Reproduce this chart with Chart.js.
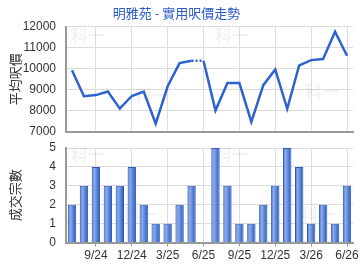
<!DOCTYPE html>
<html>
<head>
<meta charset="utf-8">
<script src="https://cdn.jsdelivr.net/npm/chart.js@4"></script>
<style>
  body { margin: 0; background: #fff; }
  canvas { display: block; }
</style>
</head>
<body>
<canvas id="priceChart" width="360" height="135"></canvas>
<canvas id="countChart" width="360" height="135"></canvas>
<script>
const months = ["7/24", "8/24", "9/24", "10/24", "11/24", "12/24", "1/25", "2/25", "3/25",
    "4/25", "5/25", "6/25", "7/25", "8/25", "9/25", "10/25", "11/25", "12/25",
    "1/26", "2/26", "3/26", "4/26", "5/26", "6/26"];
const avgPrice = [9930, 8700, 8750, 8920, 8110, 8710, 8920, 7400, 9170, 10270, 10380, 10380,
    8020, 9320, 9320, 7480, 9220, 9970, 8100, 10160, 10410, 10460, 11760, 10620];
const dealCount = [2, 3, 4, 3, 3, 4, 2, 1, 1, 2, 3, 0, 5, 3, 1, 1, 2, 3, 5, 4, 1, 2, 1, 3];
const gapIndex = 11; // no deals that month, line drawn dotted into it

const FONT = "'Liberation Sans', Arial, sans-serif";
const CJK = "'Noto Sans CJK TC', sans-serif";
const gridColor = "#dcdcdc";
const axisColor = "#999999";

Chart.defaults.animation = false;
Chart.defaults.font.family = FONT;
Chart.defaults.color = "#333";

/** faint watermark text behind the plot */
const watermark = {
    id: "watermark",
    beforeDatasetsDraw(chart, args, opts) {
        const { ctx } = chart;
        ctx.save();
        ctx.font = "bold 17px " + CJK;
        ctx.fillStyle = "rgba(0,0,0,0.05)";
        ctx.textAlign = "center";
        ctx.textBaseline = "middle";
        opts.spots.forEach(([x, y]) => ctx.fillText("科一", x, y));
        ctx.restore();
    },
};

function showTick(i) {
    return i % 3 === 2;
}

function xScale(showLabels) {
    return {
        type: "category",
        offset: true,
        grid: {
            offset: false,
            color: (c) => (showTick(c.index) ? gridColor : "transparent"),
            drawTicks: showLabels,
            tickLength: 4,
            tickColor: (c) => (showTick(c.index) ? axisColor : "transparent"),
        },
        border: { color: axisColor, width: 2 },
        ticks: {
            display: showLabels,
            autoSkip: false,
            maxRotation: 0,
            padding: 2,
            font: { size: 12 },
            color: "#333",
            callback: function (val, i) {
                return showTick(i) ? this.getLabelForValue(val) : "";
            },
        },
        afterFit: (s) => {
            if (!showLabels) s.height = 2;
            s.paddingLeft = 0;
            s.paddingRight = 0;
        },
    };
}

function yScale(min, max, step, title) {
    return {
        min,
        max,
        grid: { color: gridColor, drawTicks: false },
        border: { color: axisColor, width: 2 },
        ticks: {
            stepSize: step,
            padding: 10,
            font: { size: 12 },
            color: "#333",
            callback: (v) => String(v),
        },
        title: {
            display: true,
            text: title,
            color: "#333",
            font: { family: CJK, size: 13 },
            padding: { top: 7, bottom: 0 },
        },
        afterFit: (s) => {
            s.width = 66;
            s.paddingTop = 0;
            s.paddingBottom = 0;
        },
    };
}

new Chart(document.getElementById("priceChart"), {
    type: "line",
    data: {
        labels: months,
        datasets: [{
            data: avgPrice,
            borderColor: "#2d62cf",
            borderWidth: 2.5,
            pointRadius: 0,
            tension: 0,
            segment: {
                borderDash: (c) => (c.p1DataIndex === gapIndex ? [2, 2] : undefined),
            },
        }],
    },
    options: {
        responsive: false,
        maintainAspectRatio: false,
        layout: { padding: { left: 0, right: 7, top: 0, bottom: 1 } },
        plugins: {
            legend: { display: false },
            tooltip: { enabled: false },
            title: {
                display: true,
                text: "明雅苑 - 實用呎價走勢",
                color: "#2a5cc6",
                font: { family: CJK, size: 13, weight: "normal" },
                padding: { top: 5, bottom: 6 },
            },
            watermark: { spots: [[88, 36], [232, 36], [152, 96], [322, 92]] },
        },
        scales: {
            x: xScale(false),
            y: yScale(7000, 12000, 1000, "平均呎價"),
        },
    },
    plugins: [watermark],
});

new Chart(document.getElementById("countChart"), {
    type: "bar",
    data: {
        labels: months,
        datasets: [{
            data: dealCount,
            barPercentage: 0.7,
            categoryPercentage: 1,
            borderColor: "#2f58b8",
            borderWidth: 1,
            borderSkipped: "bottom",
            backgroundColor: (c) => {
                const chart = c.chart;
                const xs = chart.scales.x;
                if (!xs || !chart.chartArea) return "#4a78d6";
                const x = xs.getPixelForValue(c.dataIndex);
                const w = (xs.width / months.length) * 0.7;
                const g = chart.ctx.createLinearGradient(x - w / 2, 0, x + w / 2, 0);
                g.addColorStop(0, "#3360c4");
                g.addColorStop(0.3, "#8eaeea");
                g.addColorStop(0.5, "#6f93de");
                g.addColorStop(0.8, "#3f6dcc");
                g.addColorStop(1, "#2a54b6");
                return g;
            },
        }],
    },
    options: {
        responsive: false,
        maintainAspectRatio: false,
        layout: { padding: { left: 0, right: 7, top: 13, bottom: 5 } },
        plugins: {
            legend: { display: false },
            tooltip: { enabled: false },
            watermark: { spots: [[88, 20], [232, 20], [140, 80], [318, 80]] },
        },
        scales: {
            x: xScale(true),
            y: yScale(0, 5, 1, "成交宗數"),
        },
    },
    plugins: [watermark],
});
</script>
</body>
</html>
